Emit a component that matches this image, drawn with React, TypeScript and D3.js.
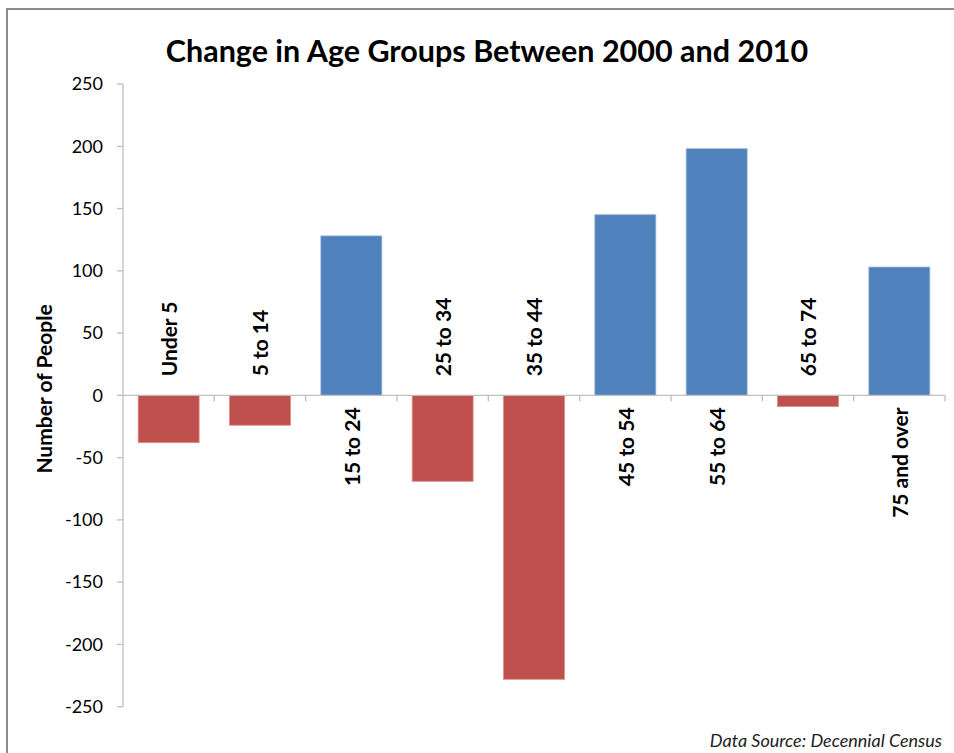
import React from "react";
import * as d3 from "d3";

const categories = ["Under 5", "5 to 14", "15 to 24", "25 to 34", "35 to 44", "45 to 54", "55 to 64", "65 to 74", "75 and over"];
const values = [-38, -24, 128, -69, -228, 145, 198, -9, 103];
const yTicks = [250, 200, 150, 100, 50, 0, -50, -100, -150, -200, -250];
const title = "Change in Age Groups Between 2000 and 2010";
const yTitle = "Number of People";
const source = "Data Source: Decennial Census";

const W = 954;
const H = 753;
const FONT = "Lato, 'Open Sans', sans-serif";

export default function App() {
  const left = 123;
  const right = 945;
  const top = 84;
  const bottom = 706.7;

  const x = d3.scaleBand<string>().domain(categories).range([left, right]).paddingInner(0.333).paddingOuter(0.1665);
  const xOuter = d3.scaleBand<string>().domain(categories).range([left, right]);
  const y = d3.scaleLinear().domain([-250, 250]).range([bottom, top]);
  const y0 = y(0);

  return (
    <svg width={W} height={H} style={{ position: "absolute", left: 0, top: 0, background: "#fff" }}>
      <rect x={7} y={9} width={W + 10} height={H + 10} fill="#fff" stroke="#8c8c8c" strokeWidth={2} />
      <text x={487} y={62} textAnchor="middle" fontFamily={FONT} fontWeight="bold" fontSize={30.5} fill="#000">
        {title}
      </text>
      {/* y axis */}
      <line x1={left} x2={left} y1={top} y2={bottom} stroke="#bfbfbf" strokeWidth={1.3} />
      {yTicks.map((t) => (
        <g key={t}>
          <line x1={left - 6} x2={left} y1={y(t)} y2={y(t)} stroke="#bfbfbf" strokeWidth={1.3} />
          <text x={103} y={y(t)} dy="0.35em" textAnchor="end" fontFamily={FONT} fontSize={18} fill="#000">
            {t}
          </text>
        </g>
      ))}
      <text
        transform={`translate(45, 389) rotate(-90)`}
        textAnchor="middle"
        dy="0.35em"
        fontFamily={FONT}
        fontWeight="bold"
        fontSize={21}
        fill="#000"
      >
        {yTitle}
      </text>
      {/* bars */}
      {categories.map((c, i) => {
        const v = values[i];
        const y1 = Math.min(y(v), y0);
        const h = Math.abs(y(v) - y0);
        return (
          <rect
            key={c}
            x={x(c)}
            y={y1}
            width={x.bandwidth()}
            height={h}
            fill={v >= 0 ? "#4f81bd" : "#c0504d"}
            stroke={v >= 0 ? "#8eaedb" : "#d98d8b"}
            strokeWidth={0.8}
          />
        );
      })}
      {/* x axis at zero */}
      <line x1={left} x2={right} y1={y0} y2={y0} stroke="#bfbfbf" strokeWidth={1.3} />
      {categories.map((c) => (
        <line
          key={"t" + c}
          x1={(xOuter(c) as number) + xOuter.bandwidth()}
          x2={(xOuter(c) as number) + xOuter.bandwidth()}
          y1={y0}
          y2={y0 + 6}
          stroke="#bfbfbf"
          strokeWidth={1.3}
        />
      ))}
      {categories.map((c, i) => {
        const cx = (x(c) as number) + x.bandwidth() / 2 + 1;
        const neg = values[i] < 0;
        const ty = neg ? y0 - 19 : y0 + 12;
        return (
          <text
            key={"l" + c}
            transform={`translate(${cx}, ${ty}) rotate(-90)`}
            textAnchor={neg ? "start" : "end"}
            dy="0.35em"
            fontFamily={FONT}
            fontWeight="bold"
            fontSize={21}
            fill="#000"
          >
            {c}
          </text>
        );
      })}
      <text x={942} y={747} textAnchor="end" fontFamily={FONT} fontStyle="italic" fontSize={18} fill="#222">
        {source}
      </text>
    </svg>
  );
}
